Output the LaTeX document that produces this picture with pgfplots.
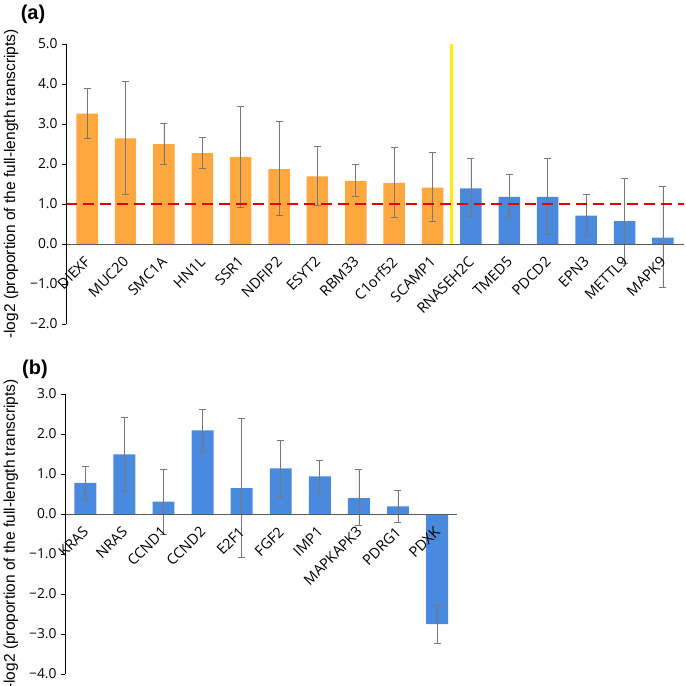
\documentclass[border=0pt]{standalone}
\usepackage{fontspec}
\setmainfont{Open Sans}
\newfontfamily\arialfont{Liberation Sans}
\usepackage{pgfplots}
\usepackage{pgfplotstable}
\pgfplotsset{compat=1.18}
\definecolor{barorange}{RGB}{255,168,64}
\definecolor{barblue}{RGB}{74,138,222}
\definecolor{ylw}{RGB}{255,238,0}
\definecolor{errgray}{RGB}{120,120,120}
\definecolor{axgray}{RGB}{89,89,89}

\pgfplotstableread{
x val ep em
0 3.26 0.63 0.62
1 2.64 1.43 1.40
2 2.50 0.52 0.51
3 2.27 0.40 0.37
4 2.17 1.26 1.25
5 1.87 1.19 1.16
6 1.69 0.76 0.73
7 1.58 0.41 0.40
8 1.53 0.89 0.86
9 1.41 0.87 0.84
}\tableAorange
\pgfplotstableread{
x val ep em
10 1.39 0.74 0.71
11 1.18 0.55 0.51
12 1.18 0.95 0.93
13 0.71 0.53 0.49
14 0.57 1.07 1.05
15 0.16 1.27 1.24
}\tableAblue
\pgfplotstableread{
x val ep em
0 0.78 0.41 0.42
1 1.49 0.93 0.92
2 0.31 0.81 0.81
3 2.09 0.53 0.52
4 0.65 1.73 1.73
5 1.14 0.70 0.69
6 0.94 0.40 0.40
7 0.40 0.72 0.68
8 0.19 0.40 0.39
9 -2.75 0.46 0.48
}\tableB

\pgfplotsset{
  myaxis/.style={
    scale only axis,
    axis on top,
    axis x line*=middle,
    axis y line*=left,
    hide obscured x ticks=false,
    hide obscured y ticks=false,
    x axis line style={axgray, line width=1bp},
    y axis line style={black, line width=0.8bp},
    xtick=data,
    xtick style={draw=none},
    ytick style={black, line width=0.8bp},
    tick align=outside,
    major tick length=4bp,
    yticklabel style={font=\fontsize{13.8bp}{16bp}\selectfont, xshift=-1bp},
    xticklabel style={font=\fontsize{14.5bp}{17bp}\selectfont, xshift=-3.5bp, yshift=-6bp, rotate=45, anchor=north east, inner sep=1bp},
    ylabel style={font=\arialfont\fontsize{15.5bp}{18bp}\selectfont, anchor=center},
    clip=false,
  },
  mybar/.style={ybar, bar width=0.56, bar shift=0pt, draw=none, fill=#1,
    error bars/.cd, y dir=both, y explicit,
    error bar style={errgray, line width=0.7bp},
    error mark options={rotate=90, mark size=3.5bp, errgray, line width=0.7bp}},
}

\begin{document}
\begin{tikzpicture}[x=1bp,y=1bp]
\useasboundingbox (0,0) rectangle (686,-686);

\begin{axis}[myaxis,
  at={(66bp,-324bp)}, anchor=south west,
  width=618bp, height=280bp,
  xmin=-0.55, xmax=15.55, ymin=-2, ymax=5,
  xtick={0,...,15},
  xticklabels={DIEXF,MUC20,SMC1A,HN1L,SSR1,NDFIP2,ESYT2,RBM33,C1orf52,SCAMP1,RNASEH2C,TMED5,PDCD2,EPN3,METTL9,MAPK9},
  ytick={-2,-1,0,1,2,3,4,5},
  yticklabels={−2.0,−1.0,0.0,1.0,2.0,3.0,4.0,5.0},
  ylabel={-log2 (proportion of the full-length transcripts)},
  ylabel style={at={(axis description cs:-0.089,0.5)}},
]
\addplot[mybar=barorange] table[x=x, y=val, y error plus=ep, y error minus=em] {\tableAorange};
\addplot[mybar=barblue] table[x=x, y=val, y error plus=ep, y error minus=em] {\tableAblue};
\addplot[ylw, line width=3bp, forget plot] coordinates {(9.5,0) (9.5,5)};
\addplot[red!90!black, line width=1.6bp, dash pattern=on 11bp off 6bp, forget plot] coordinates {(-0.55,1) (15.55,1)};
\end{axis}

\begin{axis}[myaxis,
  at={(65bp,-674bp)}, anchor=south west,
  width=392bp, height=280bp,
  xmin=-0.52, xmax=9.51, ymin=-4, ymax=3,
  xtick={0,...,9},
  xticklabels={KRAS,NRAS,CCND1,CCND2,E2F1,FGF2,IMP1,MAPKAPK3,PDRG1,PDXK},
  ytick={-4,-3,-2,-1,0,1,2,3},
  yticklabels={−4.0,−3.0,−2.0,−1.0,0.0,1.0,2.0,3.0},
  ylabel={-log2 (proportion of the full-length transcripts)},
  ylabel style={at={(axis description cs:-0.138,0.5)}},
]
\addplot[mybar=barblue] table[x=x, y=val, y error plus=ep, y error minus=em] {\tableB};
\end{axis}

\node[font=\arialfont\bfseries\fontsize{20bp}{24bp}\selectfont] at (33,-14) {(a)};
\node[font=\arialfont\bfseries\fontsize{20bp}{24bp}\selectfont] at (35,-369) {(b)};
\end{tikzpicture}
\end{document}
